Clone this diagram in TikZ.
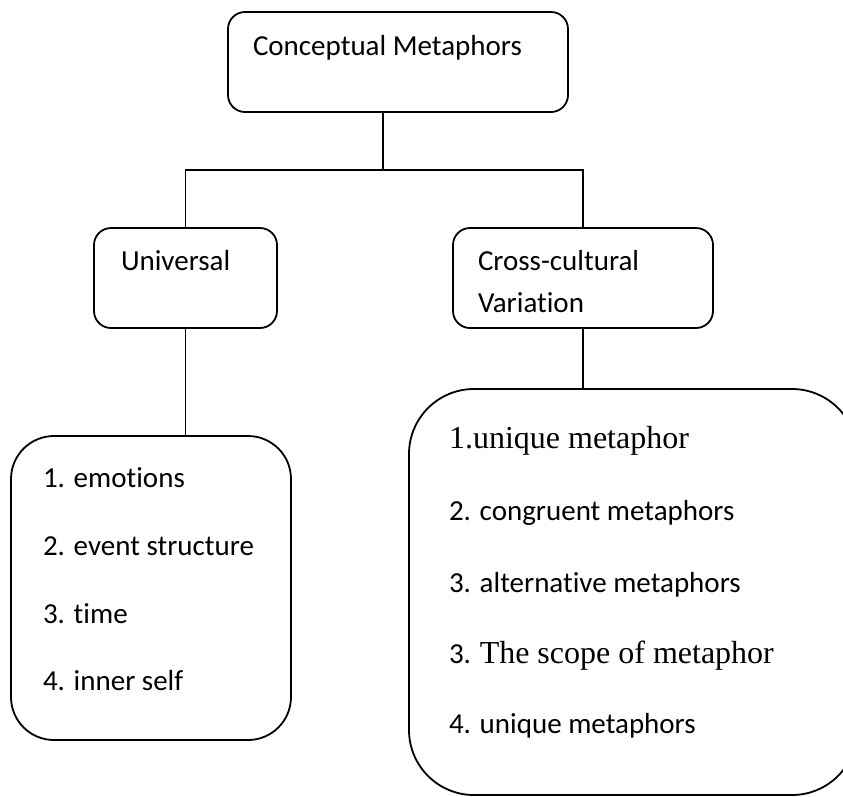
\documentclass[tikz,border=0pt]{standalone}
\usepackage{fontspec}
\setmainfont[Ligatures=NoCommon]{Carlito}
\newfontfamily\tnr{Liberation Serif}
\begin{document}
\begin{tikzpicture}[x=1pt,y=-1pt,
  box/.style={draw=black,line width=1.8pt,inner sep=0pt,outer sep=0pt},
  lbl/.style={anchor=base west,inner sep=0pt,outer sep=0pt,font=\fontsize{29}{35}\selectfont},
  slbl/.style={anchor=base west,inner sep=0pt,outer sep=0pt,font=\fontsize{32}{38}\selectfont\tnr},
  conn/.style={draw=black,line width=1.8pt}]
\useasboundingbox (0,0) rectangle (843,796);
% boxes
\node[box,rounded corners=17pt,minimum width=340pt,minimum height=100pt] (top) at (398,62) {};
\node[box,rounded corners=17pt,minimum width=183pt,minimum height=100pt] (univ) at (185.5,278) {};
\node[box,rounded corners=17pt,minimum width=260pt,minimum height=100pt] (cross) at (583,278) {};
\node[box,rounded corners=43pt,minimum width=280pt,minimum height=304pt] (left) at (151,588) {};
\node[box,rounded corners=65pt,minimum width=448pt,minimum height=406pt] (right) at (633,592) {};
% texts
\node[lbl] (ttop) at (253,55) {Conceptual Metaphors};
\node[lbl] (tuniv) at (121,270) {Universal};
\node[lbl] (tcross1) at (478,270) {Cross-cultural};
\node[lbl] (tcross2) at (478,312) {Variation};
\node[lbl] (l1) at (43,487) {1. emotions};
\node[lbl] (l2) at (43,555) {2. event structure};
\node[lbl] (l3) at (43,623) {3. time};
\node[lbl] (l4) at (43,690) {4. inner self};
\node[slbl] (r1) at (449,448) {1.unique metaphor};
\node[lbl] (r2) at (449,520) {2. congruent metaphors};
\node[lbl] (r3) at (449,592) {3. alternative metaphors};
\node[lbl] (r4) at (449,663) {3. {\fontsize{32}{38}\selectfont\tnr The scope of metaphor}};
\node[lbl] (r5) at (449,733) {4. unique metaphors};
% connectors
\coordinate (j) at (383,170);
\draw[conn] (top.south -| j) -- (j);
\draw[conn] (univ.north) -- (univ.north |- j) -- (cross.north |- j) -- (cross.north);
\draw[conn] (univ.south) -- (univ.south |- left.north);
\draw[conn] (cross.south) -- (cross.south |- right.north);
\end{tikzpicture}
\end{document}
